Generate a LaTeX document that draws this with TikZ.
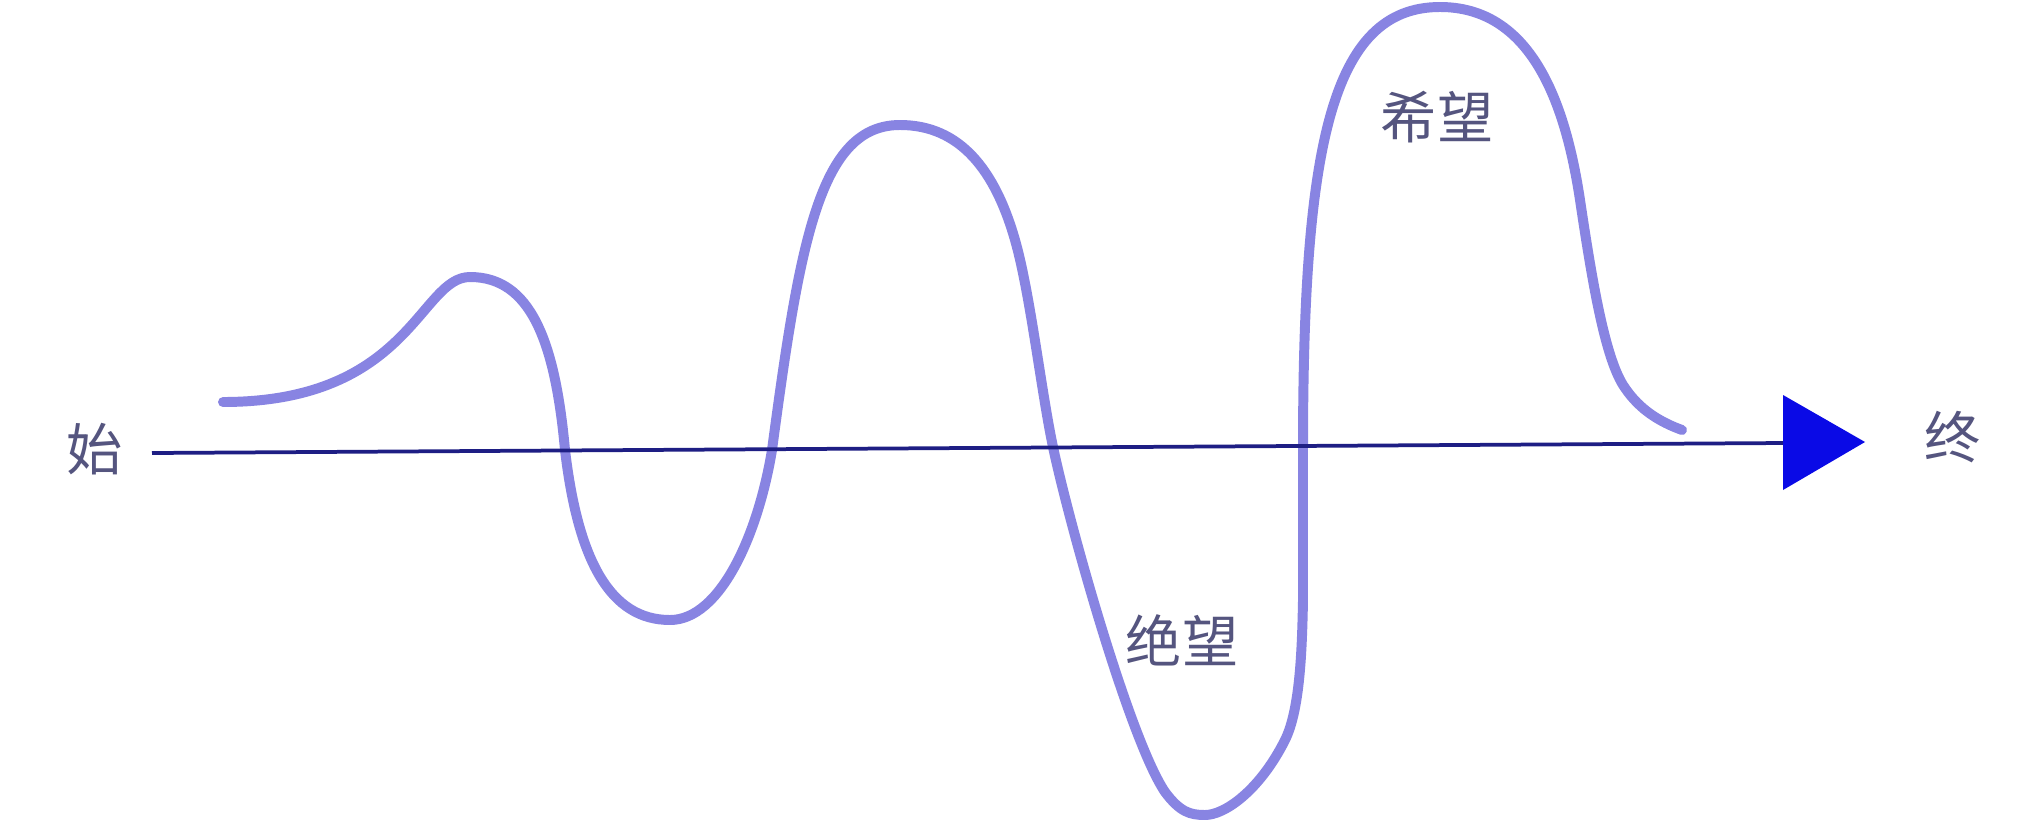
\documentclass[tikz,border=0pt]{standalone}
\usepackage{fontspec}
\newfontfamily\cjk{Noto Sans CJK SC}
\definecolor{wave}{HTML}{8884E2}
\definecolor{axiscol}{HTML}{1E1E84}
\definecolor{tipcol}{HTML}{0A0AE6}
\definecolor{labelcol}{HTML}{55557F}
\tikzset{
  lbl/.style={font=\cjk\fontsize{48}{50}\selectfont, text=labelcol, inner sep=0pt},
  wavestyle/.style={draw=wave, line width=8.5pt, line cap=round, line join=round},
  axisstyle/.style={draw=axiscol, line width=3.2pt}
}
\begin{document}
\begin{tikzpicture}[x=0.03cm,y=-0.03cm]
\useasboundingbox (0,0) rectangle (2023,836);
\fill[white] (0,0) rectangle (2023,836);
% wave
\draw[wavestyle]
 (223,402) .. controls (410,402) and (420,277) .. (470,277)
 .. controls (530,277) and (555,340) .. (565,450)
 .. controls (578,560) and (610,620) .. (670,620)
 .. controls (720,620) and (758,535) .. (772,450)
 .. controls (800,240) and (820,125) .. (900,125)
 .. controls (960,125) and (995,170) .. (1015,240)
 .. controls (1030,292) and (1041,390) .. (1053,447)
 .. controls (1070,527) and (1130,740) .. (1165,792)
 .. controls (1180,812) and (1190,815) .. (1205,815)
 .. controls (1225,815) and (1260,790) .. (1285,740)
 .. controls (1300,710) and (1302,650) .. (1303,600)
 -- (1303,450)
 .. controls (1303,150) and (1330,7) .. (1440,7)
 .. controls (1530,7) and (1565,100) .. (1580,200)
 .. controls (1592,280) and (1605,360) .. (1625,388)
 .. controls (1640,410) and (1660,422) .. (1682,430);
% axis
\coordinate (a0) at (152,453);
\coordinate (a1) at (1785,443);
\draw[axisstyle] (a0) -- (a1);
\fill[tipcol] (1783,395) -- (1865,442) -- (1783,490) -- cycle;
% labels
\node[lbl] (start) at (95,449) {始};
\node[lbl] (end) at (1953,437) {终};
\node[lbl] (hope) at (1437,117) {希望};
\node[lbl] (despair) at (1182,640) {绝望};
\end{tikzpicture}
\end{document}
